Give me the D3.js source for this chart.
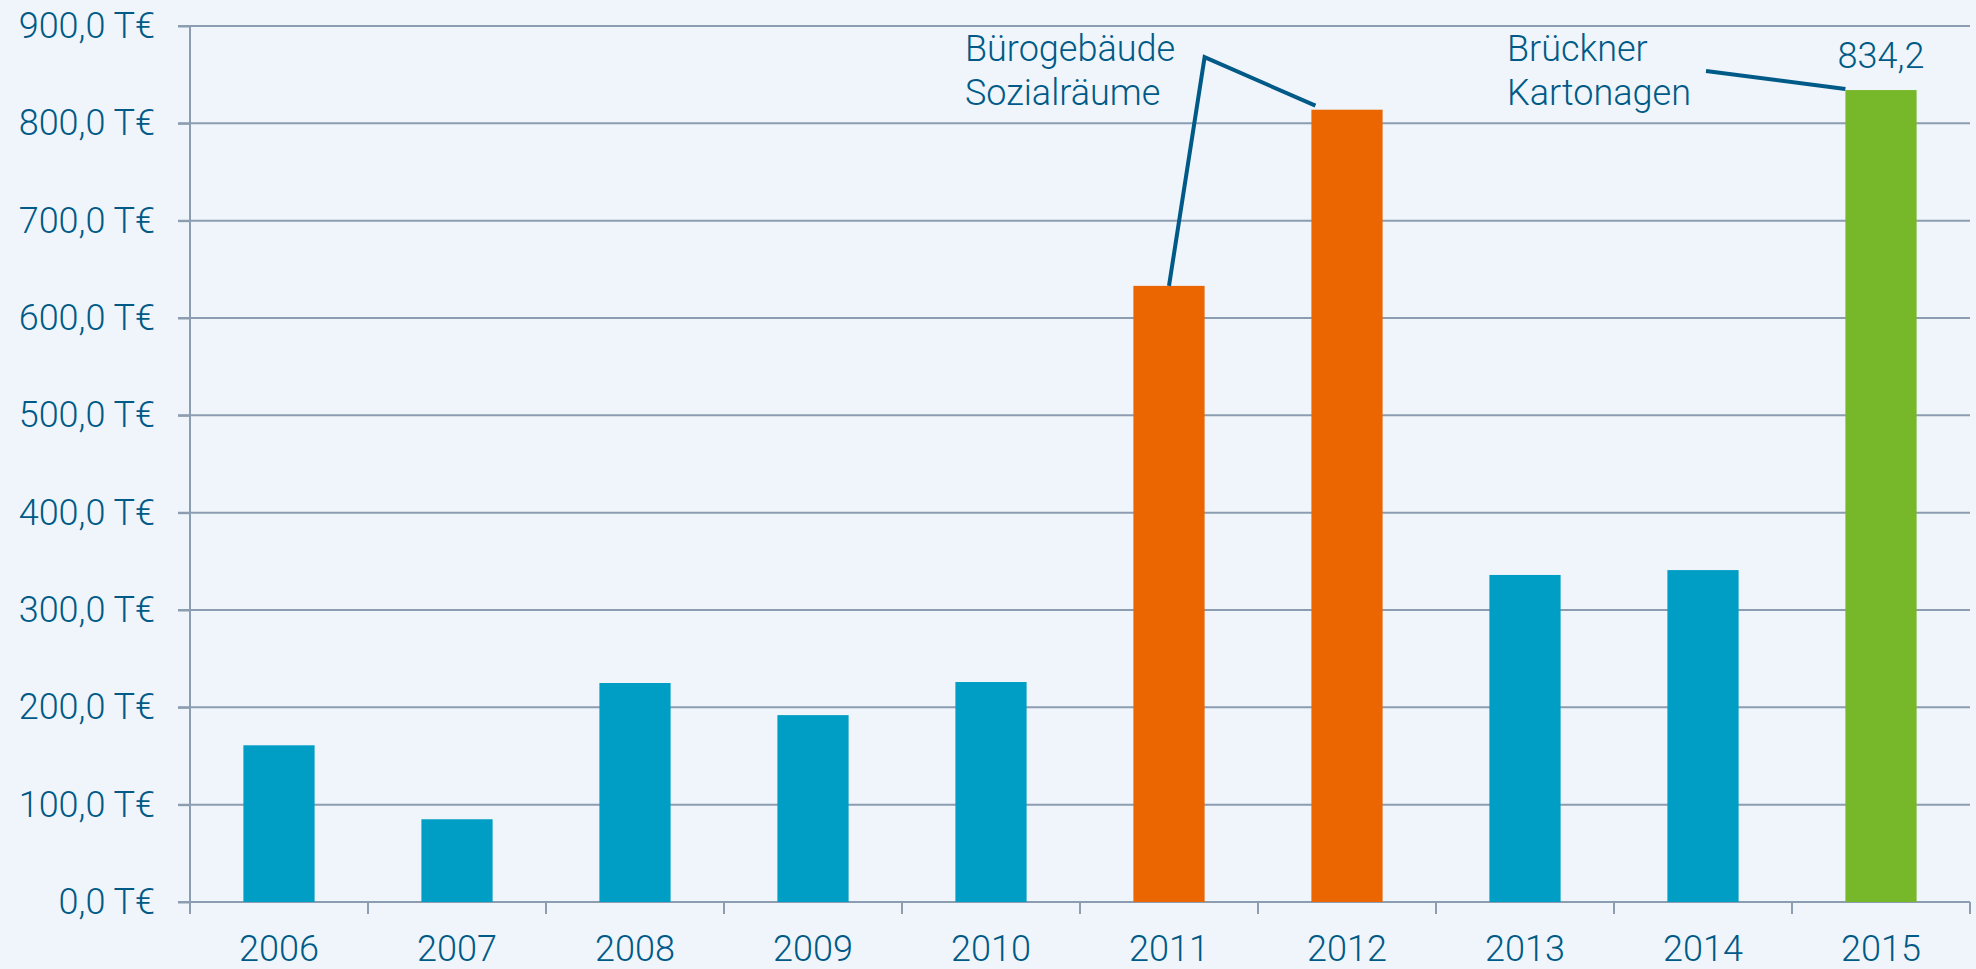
<!DOCTYPE html>
<html>
<head>
<meta charset="utf-8">
<script src="https://cdn.jsdelivr.net/npm/d3@7"></script>
<style>
  html, body { margin: 0; padding: 0; background: #eff5fa; }
  svg { display: block; }
  text { font-family: Roboto, "Noto Sans", sans-serif; font-weight: 300; fill: #005a87; }
</style>
</head>
<body>
<svg id="chart" width="1976" height="969"></svg>
<script>
// ---- data ----
const years = ["2006","2007","2008","2009","2010","2011","2012","2013","2014","2015"];
const values = [161, 85, 225, 192, 226, 633, 814, 336, 341, 834.2];
const barColors = ["#009dc4","#009dc4","#009dc4","#009dc4","#009dc4","#eb6600","#eb6600","#009dc4","#009dc4","#77b82a"];
const yTicks = [0, 100, 200, 300, 400, 500, 600, 700, 800, 900];
const noteOffice = ["Bürogebäude", "Sozialräume"];
const noteBrueckner = ["Brückner", "Kartonagen"];
const valueLabelYear = "2015";

// ---- layout ----
const W = 1976, H = 969;
const m = { left: 190, right: 6, top: 26, bottom: 67 };
const svg = d3.select("#chart");
const loc = d3.formatLocale({ decimal: ",", thousands: ".", grouping: [3], currency: ["", "€"] });
const f1 = loc.format(".1f");

const x = d3.scaleBand().domain(years).range([m.left, W - m.right]).paddingInner(0.6).paddingOuter(0.3);
const y = d3.scaleLinear().domain([0, 900]).range([H - m.bottom, m.top]);

const gridColor = "#8c9db1";
const fontSize = 36;

// gridlines
svg.append("g").selectAll("line").data(yTicks).join("line")
  .attr("x1", m.left - 12).attr("x2", W - m.right)
  .attr("y1", d => y(d)).attr("y2", d => y(d))
  .attr("stroke", gridColor).attr("stroke-width", 2);

// y axis
const yAxis = svg.append("g").attr("transform", `translate(${m.left},0)`)
  .call(d3.axisLeft(y).tickValues(yTicks).tickSize(12).tickPadding(23).tickFormat(d => f1(d) + " T€"));
yAxis.select(".domain").remove();
yAxis.selectAll(".tick line").attr("stroke", gridColor).attr("stroke-width", 2);
yAxis.selectAll(".tick text").attr("font-size", fontSize).attr("font-family", "Roboto, sans-serif")
  .attr("font-weight", 300).attr("fill", "#005a87");

// y axis vertical line (extends below base)
svg.append("line")
  .attr("x1", m.left).attr("x2", m.left)
  .attr("y1", y(900)).attr("y2", y(0) + 12)
  .attr("stroke", gridColor).attr("stroke-width", 2);

// x ticks at band boundaries
const boundaries = years.map(d => x(d) - x.step() * x.paddingInner() / 2).slice(1).concat([x.range()[1]]);
svg.append("g").selectAll("line").data(boundaries).join("line")
  .attr("x1", d => d).attr("x2", d => d)
  .attr("y1", y(0)).attr("y2", y(0) + 12)
  .attr("stroke", gridColor).attr("stroke-width", 2);

// x labels
svg.append("g").selectAll("text").data(years).join("text")
  .attr("x", d => x(d) + x.bandwidth() / 2)
  .attr("y", y(0) + 59)
  .attr("text-anchor", "middle")
  .attr("font-size", fontSize)
  .text(d => d);

// bars
svg.append("g").selectAll("rect").data(years).join("rect")
  .attr("x", d => x(d))
  .attr("width", x.bandwidth())
  .attr("y", (d, i) => y(values[i]))
  .attr("height", (d, i) => y(0) - y(values[i]))
  .attr("fill", (d, i) => barColors[i]);

// value label for 2015
const vi = years.indexOf(valueLabelYear);
svg.append("text")
  .attr("x", x(valueLabelYear) + x.bandwidth() / 2)
  .attr("y", y(values[vi]) - 22)
  .attr("text-anchor", "middle")
  .attr("font-size", fontSize)
  .text(f1(values[vi]));

// annotation: Bürogebäude / Sozialräume
const lineColor = "#005a87";
const i11 = years.indexOf("2011"), i12 = years.indexOf("2012");
const vertex = [x("2011") + x.bandwidth(), y(868)];
svg.append("polyline")
  .attr("points", [
    [x("2011") + x.bandwidth() / 2, y(values[i11])],
    vertex,
    [x("2012") + 4, y(values[i12]) - 4]
  ].map(p => p.join(",")).join(" "))
  .attr("fill", "none").attr("stroke", lineColor).attr("stroke-width", 4);

const office = svg.append("text").attr("font-size", fontSize);
office.selectAll("tspan").data(noteOffice).join("tspan")
  .attr("x", 965).attr("y", (d, i) => 61 + i * 44).text(d => d);

// annotation: Brückner Kartonagen
const br = svg.append("text").attr("font-size", fontSize);
br.selectAll("tspan").data(noteBrueckner).join("tspan")
  .attr("x", 1507).attr("y", (d, i) => 61 + i * 44).text(d => d);
svg.append("line")
  .attr("x1", 1706).attr("y1", 71)
  .attr("x2", x("2015")).attr("y2", y(values[vi]) - 1)
  .attr("stroke", lineColor).attr("stroke-width", 4);
</script>
</body>
</html>
